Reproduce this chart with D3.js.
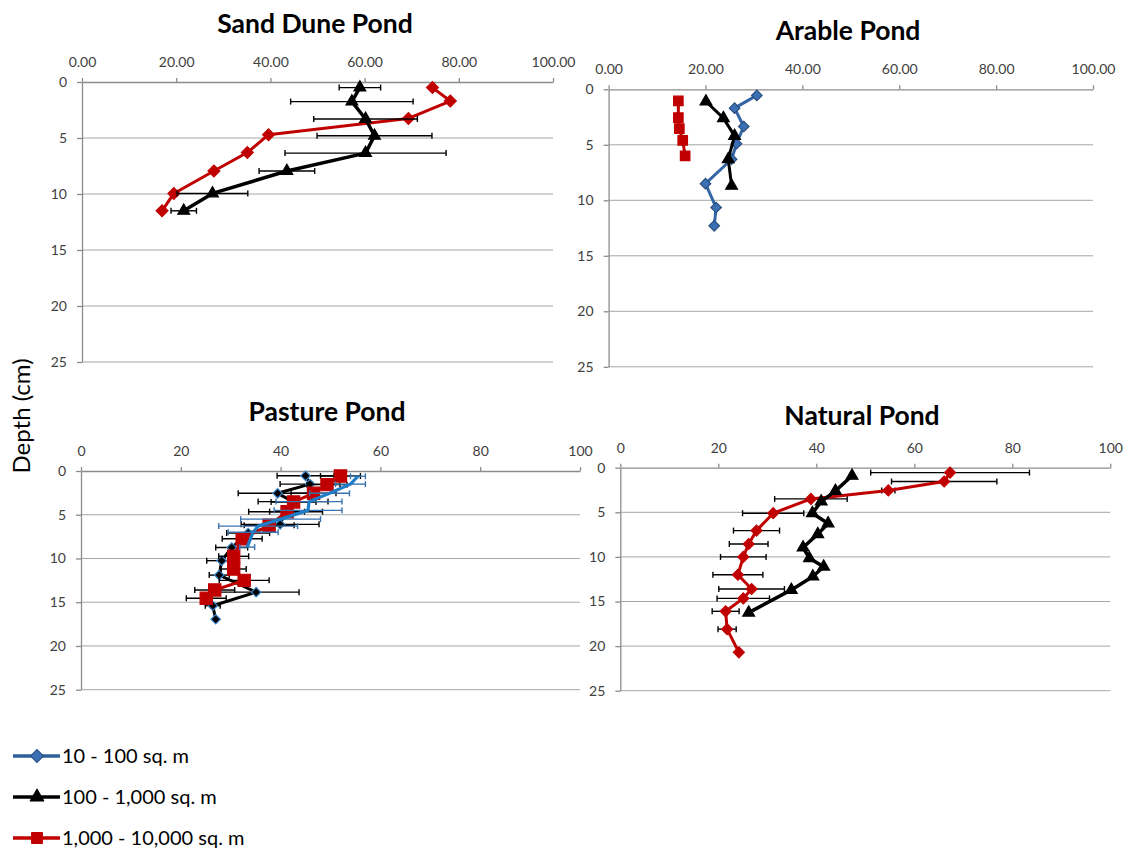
<!DOCTYPE html>
<html>
<head>
<meta charset="utf-8">
<script src="https://cdn.jsdelivr.net/npm/d3@7"></script>
<style>
  body { margin: 0; background: #fff; }
  svg { display: block; font-family: Lato, 'Open Sans', sans-serif; }
</style>
</head>
<body>
<svg id="chart" width="1131" height="848"></svg>
<script>
// axis ticks
const xTicks = [0, 20, 40, 60, 80, 100]
const yTicks = [0, 5, 10, 15, 20, 25]

// legend
const legendLabels = ['10 - 100 sq. m', '100 - 1,000 sq. m', '1,000 - 10,000 sq. m']

// Sand Dune Pond
const sandRedDepth = [0.5, 1.7, 3.25, 4.7, 6.3, 7.95, 9.95, 11.5]
const sandRedValue = [74.4, 78.2, 69.3, 39.6, 35.1, 28.0, 19.5, 17.0]
const sandBlackDepth = [0.5, 1.75, 3.3, 4.8, 6.35, 7.95, 9.95, 11.5]
const sandBlackValue = [59.0, 57.3, 60.2, 62.1, 60.2, 43.5, 27.7, 21.6]
const sandBlackErr = [4.4, 13.0, 11.0, 12.2, 17.1, 5.9, 7.5, 2.7]

// Arable Pond
const arableBlueDepth = [0.55, 1.7, 3.35, 4.9, 6.3, 8.5, 10.65, 12.3]
const arableBlueValue = [30.6, 26.0, 27.9, 26.4, 25.4, 20.0, 22.2, 21.8]
const arableBlackDepth = [1.1, 2.6, 4.2, 6.3, 8.7]
const arableBlackValue = [20.1, 23.7, 26.0, 24.7, 25.4]
const arableRedDepth = [1.05, 2.55, 3.55, 4.6, 6.0]
const arableRedValue = [14.4, 14.4, 14.6, 15.3, 15.8]

// Pasture Pond
const pastureBlackDepth = [0.55, 1.5, 2.55, 3.5, 4.65, 6.1, 7.1, 8.75, 10.25, 11.9, 13.85, 15.4, 16.95]
const pastureBlackValue = [45.0, 45.9, 39.4, 42.5, 41.0, 39.9, 33.5, 30.2, 28.2, 27.7, 35.1, 26.4, 27.0]
const pastureBlackErr = [5.7, 6.0, 7.9, 7.0, 7.4, 7.8, 4.3, 3.2, 3.0, 2.0, 8.6, 1.5, 0]
const pastureRedDepth = [0.57, 1.56, 2.55, 3.54, 4.65, 6.21, 7.75, 9.75, 11.2, 12.5, 13.6, 14.55]
const pastureRedValue = [52.0, 49.3, 46.6, 42.6, 41.3, 37.7, 32.3, 30.6, 30.6, 32.7, 26.8, 25.1]
const pastureRedErr = [4.0, 4.0, 4.5, 4.5, 3.5, 5.0, 4.0, 3.0, 2.5, 5.0, 4.0, 4.0]
const pastureBlueDepth = [0.6, 1.5, 2.55, 3.5, 4.5, 5.5, 6.3, 7.0, 8.7]
const pastureBlueValue = [55.5, 54.0, 49.8, 45.7, 45.5, 40.0, 35.5, 34.5, 33.3]
const pastureBlueErr = [1.5, 3.0, 4.0, 6.6, 6.8, 8.0, 7.9, 5.0, 1.5]

// Natural Pond
const naturalRedDepth = [0.55, 1.55, 2.55, 3.5, 5.1, 7.05, 8.55, 10.0, 12.0, 13.6, 14.65, 16.1, 18.1, 20.7]
const naturalRedValue = [67.3, 66.1, 54.7, 38.9, 31.2, 27.8, 26.2, 25.1, 24.0, 26.8, 25.1, 21.5, 21.8, 24.2]
const naturalRedErr = [16.2, 10.75, 1.35, 7.4, 6.25, 4.7, 3.95, 4.65, 5.1, 6.7, 5.35, 2.75, 1.85, 0]
const naturalBlackDepth = [0.9, 2.6, 3.8, 5.1, 6.25, 7.45, 8.95, 10.15, 11.1, 12.2, 13.7, 16.25]
const naturalBlackValue = [47.3, 43.9, 41.0, 39.2, 42.4, 40.3, 37.3, 38.6, 41.5, 39.3, 34.9, 26.2]

const RED = '#c00000'
const BLUE = '#2f5f98'
const LIGHTBLUE = '#1f7cc7'

let svg = d3.select('#chart')

// diamond = square turned 45 degrees
let markerPath = {
  diamond: s => d3.symbol(d3.symbolSquare, s)(),
  triangle: s => d3.symbol(d3.symbolTriangle, s)(),
  square: s => d3.symbol(d3.symbolSquare, s)(),
  none: s => null
}

let panels = [
  {
    title: 'Sand Dune Pond', fmt: '.2f', left: 82, right: 553, top: 82, bottom: 362, titleX: 315, titleY: 33,
    series: [
      { depth: sandRedDepth, value: sandRedValue, color: RED, width: 3, marker: 'diamond', size: 70, fill: RED, stroke: RED },
      { depth: sandBlackDepth, value: sandBlackValue, err: sandBlackErr, errColor: '#000', color: '#000', width: 3.5, marker: 'triangle', size: 60, fill: '#000', stroke: '#000' }
    ]
  },
  {
    title: 'Arable Pond', fmt: '.2f', left: 608.6, right: 1093, top: 89.3, bottom: 366.8, titleX: 848, titleY: 39.5,
    series: [
      { depth: arableBlueDepth, value: arableBlueValue, color: '#3465a4', width: 3, marker: 'diamond', size: 55, fill: '#3c70b4', stroke: '#284f80' },
      { depth: arableBlackDepth, value: arableBlackValue, color: '#000', width: 3, marker: 'triangle', size: 60, fill: '#000', stroke: '#000' },
      { depth: arableRedDepth, value: arableRedValue, color: RED, width: 3, marker: 'square', size: 90, fill: RED, stroke: RED }
    ]
  },
  {
    title: 'Pasture Pond', fmt: 'd', left: 81, right: 580, top: 471, bottom: 689.7, titleX: 327, titleY: 421,
    series: [
      { depth: pastureBlackDepth, value: pastureBlackValue, err: pastureBlackErr, errColor: '#000', color: '#000', width: 3, marker: 'diamond', size: 45, fill: '#000', stroke: '#3a85c8' },
      { depth: pastureRedDepth, value: pastureRedValue, err: pastureRedErr, errColor: '#000', color: RED, width: 3, marker: 'square', size: 150, fill: RED, stroke: RED },
      { depth: pastureBlueDepth, value: pastureBlueValue, err: pastureBlueErr, errColor: '#3a72b0', color: LIGHTBLUE, width: 3.2, marker: 'none' }
    ]
  },
  {
    title: 'Natural Pond', fmt: 'd', left: 620.3, right: 1110.3, top: 467.7, bottom: 690.7, titleX: 862, titleY: 425,
    series: [
      { depth: naturalRedDepth, value: naturalRedValue, err: naturalRedErr, errColor: '#000', color: RED, width: 3, marker: 'diamond', size: 60, fill: RED, stroke: RED },
      { depth: naturalBlackDepth, value: naturalBlackValue, color: '#000', width: 3.5, marker: 'triangle', size: 60, fill: '#000', stroke: '#000' }
    ]
  }
]

panels.forEach(p => {
  let x = d3.scaleLinear().domain([0, 100]).range([p.left, p.right])
  let y = d3.scaleLinear().domain([0, 25]).range([p.top, p.bottom])
  let g = svg.append('g')

  // gridlines
  g.selectAll('.grid')
    .data(yTicks.slice(1))
    .enter()
    .append('line')
    .attr('x1', p.left)
    .attr('x2', p.right)
    .attr('y1', d => y(d))
    .attr('y2', d => y(d))
    .attr('stroke', '#a6a6a6')
    .attr('stroke-width', 1)

  // axes
  let xAxis = d3.axisTop(x).tickValues(xTicks).tickFormat(d3.format(p.fmt)).tickSize(4).tickSizeOuter(0).tickPadding(11)
  g.append('g').attr('class', 'axis').attr('transform', `translate(0,${p.top})`).call(xAxis)

  let yAxis = d3.axisLeft(y).tickValues(yTicks).tickSize(5).tickSizeOuter(0).tickPadding(10)
  g.append('g').attr('class', 'axis').attr('transform', `translate(${p.left},0)`).call(yAxis)

  g.selectAll('.axis path, .axis line').attr('stroke', '#8c8c8c').attr('stroke-width', 1.3)
  g.selectAll('.axis text').attr('font-size', 14).attr('fill', '#404040').attr('font-family', 'Lato, sans-serif')

  // title
  g.append('text')
    .text(p.title)
    .attr('x', p.titleX)
    .attr('y', p.titleY)
    .attr('text-anchor', 'middle')
    .attr('font-size', 26.5)
    .attr('font-weight', 'bold')

  let line = d3.line().x(d => x(d[1])).y(d => y(d[0]))

  p.series.forEach(s => {
    let pts = d3.zip(s.depth, s.value, s.err || s.depth.map(() => 0))

    // error bars
    let eb = g.append('g')
      .selectAll('g')
      .data(pts.filter(d => d[2] > 0))
      .enter()
      .append('g')
      .attr('stroke', s.errColor)
      .attr('stroke-width', 1.4)
    eb.append('line')
      .attr('x1', d => x(d[1] - d[2]))
      .attr('x2', d => x(d[1] + d[2]))
      .attr('y1', d => y(d[0]))
      .attr('y2', d => y(d[0]))
    eb.append('line')
      .attr('x1', d => x(d[1] - d[2]))
      .attr('x2', d => x(d[1] - d[2]))
      .attr('y1', d => y(d[0]) - 3)
      .attr('y2', d => y(d[0]) + 3)
    eb.append('line')
      .attr('x1', d => x(d[1] + d[2]))
      .attr('x2', d => x(d[1] + d[2]))
      .attr('y1', d => y(d[0]) - 3)
      .attr('y2', d => y(d[0]) + 3)

    g.append('path')
      .datum(pts)
      .attr('d', line)
      .attr('fill', 'none')
      .attr('stroke', s.color)
      .attr('stroke-width', s.width)
      .attr('stroke-linejoin', 'round')

    if (s.marker !== 'none') {
      g.selectAll(null)
        .data(pts)
        .enter()
        .append('path')
        .attr('d', markerPath[s.marker](s.size))
        .attr('transform', d => `translate(${x(d[1])},${y(d[0])})` + (s.marker === 'diamond' ? ' rotate(45)' : ''))
        .attr('fill', s.fill)
        .attr('stroke', s.stroke)
        .attr('stroke-width', 1.2)
    }
  })
})

// y axis title
svg.append('text')
  .text('Depth (cm)')
  .attr('transform', 'translate(30,416) rotate(-90)')
  .attr('text-anchor', 'middle')
  .attr('font-size', 24)

// legend
let legendStyles = [
  { color: BLUE, marker: 'diamond', size: 85, fill: '#3c70b4', stroke: '#284f80' },
  { color: '#000', marker: 'triangle', size: 85, fill: '#000', stroke: '#000' },
  { color: RED, marker: 'square', size: 120, fill: RED, stroke: RED }
]
let legendY = d3.scalePoint().domain(legendLabels).range([756, 838])

let legend = svg.selectAll('.legend')
  .data(legendLabels)
  .enter()
  .append('g')
  .attr('class', 'legend')
  .attr('transform', d => `translate(0,${legendY(d)})`)

legend.append('line')
  .attr('x1', 13)
  .attr('x2', 60)
  .attr('stroke', (d, i) => legendStyles[i].color)
  .attr('stroke-width', 3.5)
legend.append('path')
  .attr('d', (d, i) => markerPath[legendStyles[i].marker](legendStyles[i].size))
  .attr('transform', (d, i) => 'translate(37,0)' + (legendStyles[i].marker === 'diamond' ? ' rotate(45)' : ''))
  .attr('fill', (d, i) => legendStyles[i].fill)
  .attr('stroke', (d, i) => legendStyles[i].stroke)
legend.append('text')
  .text(d => d)
  .attr('x', 62)
  .attr('dy', '0.35em')
  .attr('font-size', 20)
</script>
</body>
</html>
